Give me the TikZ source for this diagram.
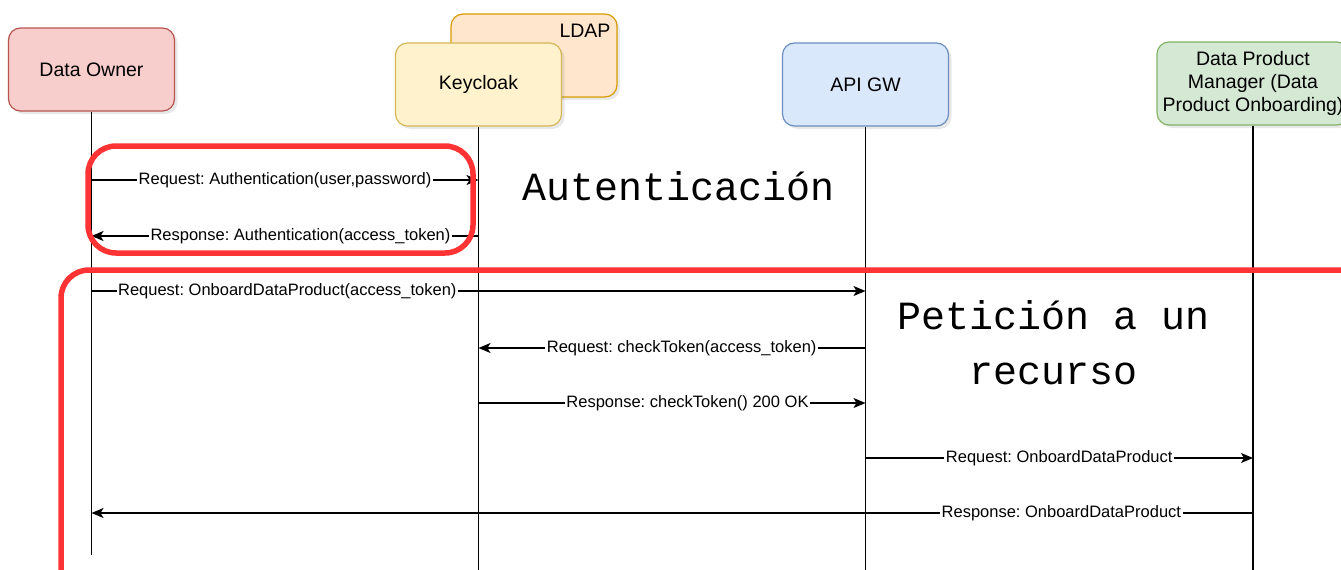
\documentclass[tikz,border=0pt]{standalone}
\usepackage{fontspec}
\setmainfont{Liberation Sans}
\newfontfamily\codefont{Liberation Mono}
\usetikzlibrary{arrows.meta,shadows}
\frenchspacing

\definecolor{ownerfill}{HTML}{F8CECC}
\definecolor{ownerline}{HTML}{B85450}
\definecolor{kcfill}{HTML}{FFF2CC}
\definecolor{kcline}{HTML}{D6B656}
\definecolor{ldapfill}{HTML}{FFE6CC}
\definecolor{ldapline}{HTML}{D79B00}
\definecolor{gwfill}{HTML}{DAE8FC}
\definecolor{gwline}{HTML}{6C8EBF}
\definecolor{dpmfill}{HTML}{D5E8D4}
\definecolor{dpmline}{HTML}{82B366}
\definecolor{markred}{HTML}{FF3333}

\begin{document}
\begin{tikzpicture}[x=1pt, y=-1pt,
    actor/.style={draw, rectangle, rounded corners=12pt, minimum width=166pt, minimum height=83pt,
        line width=1.2pt, align=center, font=\fontsize{19.5}{23}\selectfont,
        drop shadow={opacity=0.18, shadow xshift=3pt, shadow yshift=-3pt}},
    life/.style={line width=1.3pt},
    msg/.style={line width=1.4pt, -{Stealth[length=12pt, width=10pt, inset=3pt]}},
    lbl/.style={fill=white, inner sep=1.5pt, font=\fontsize{16.5}{20}\selectfont},
    redframe/.style={draw=markred, line width=5.5pt, rounded corners=28pt},
    bigtext/.style={font=\codefont\fontsize{40}{55}\selectfont, align=center}]
    \useasboundingbox (0,0) rectangle (1341,570);

    \node[actor, fill=ownerfill, draw=ownerline] (owner) at (91.5,69.5) {Data Owner};
    \node[actor, fill=ldapfill, draw=ldapline] (ldap) at (534,55.5) {};
    \node[font=\fontsize{19.5}{23}\selectfont, anchor=north east] (ldaptext) at (614,21) {LDAP};
    \node[actor, fill=kcfill, draw=kcline] (keycloak) at (478.5,84.5) {Keycloak};
    \node[actor, fill=gwfill, draw=gwline] (gw) at (865.5,84.5) {API GW};
    \node[actor, fill=dpmfill, draw=dpmline, minimum width=192pt] (dpm) at (1253,83.5) {Data Product\\Manager (Data\\Product Onboarding)};

    \coordinate (bottom) at (0,570);
    \coordinate (ownerend) at (0,555);
    \draw[life] (owner.south) -- (owner |- ownerend);
    \draw[life] (keycloak.south) -- (keycloak |- bottom);
    \draw[life] (gw.south) -- (gw |- bottom);
    \draw[life] (dpm.south) -- (dpm |- bottom);

    \draw[msg] (owner |- 0,180) -- node[lbl] {Request: Authentication(user,password)} (keycloak |- 0,180);
    \draw[msg] (keycloak |- 0,236) -- node[lbl, pos=0.46] {Response: Authentication(access\_token)} (owner |- 0,236);
    \draw[msg] (owner |- 0,291) -- node[lbl, pos=0.253] {Request: OnboardDataProduct(access\_token)} (gw |- 0,291);
    \draw[msg] (gw |- 0,348) -- node[lbl, pos=0.475] {Request: checkToken(access\_token)} (keycloak |- 0,348);
    \draw[msg] (keycloak |- 0,403) -- node[lbl, pos=0.54] {Response: checkToken() 200 OK} (gw |- 0,403);
    \draw[msg] (gw |- 0,458) -- node[lbl] {Request: OnboardDataProduct} (dpm |- 0,458);
    \draw[msg] (dpm |- 0,513) -- node[lbl, pos=0.165] {Response: OnboardDataProduct} (owner |- 0,513);

    \draw[redframe] (88,146) rectangle (473,253);
    \begin{scope}
        \clip (0,0) rectangle (1341,570);
        \draw[redframe] (61,270) rectangle (1380,600);
    \end{scope}

    \node[bigtext] (authtext) at (679,186) {Autenticación};
    \node[bigtext] (reqtext) at (1054,343) {Petición a un\\recurso};
\end{tikzpicture}
\end{document}
